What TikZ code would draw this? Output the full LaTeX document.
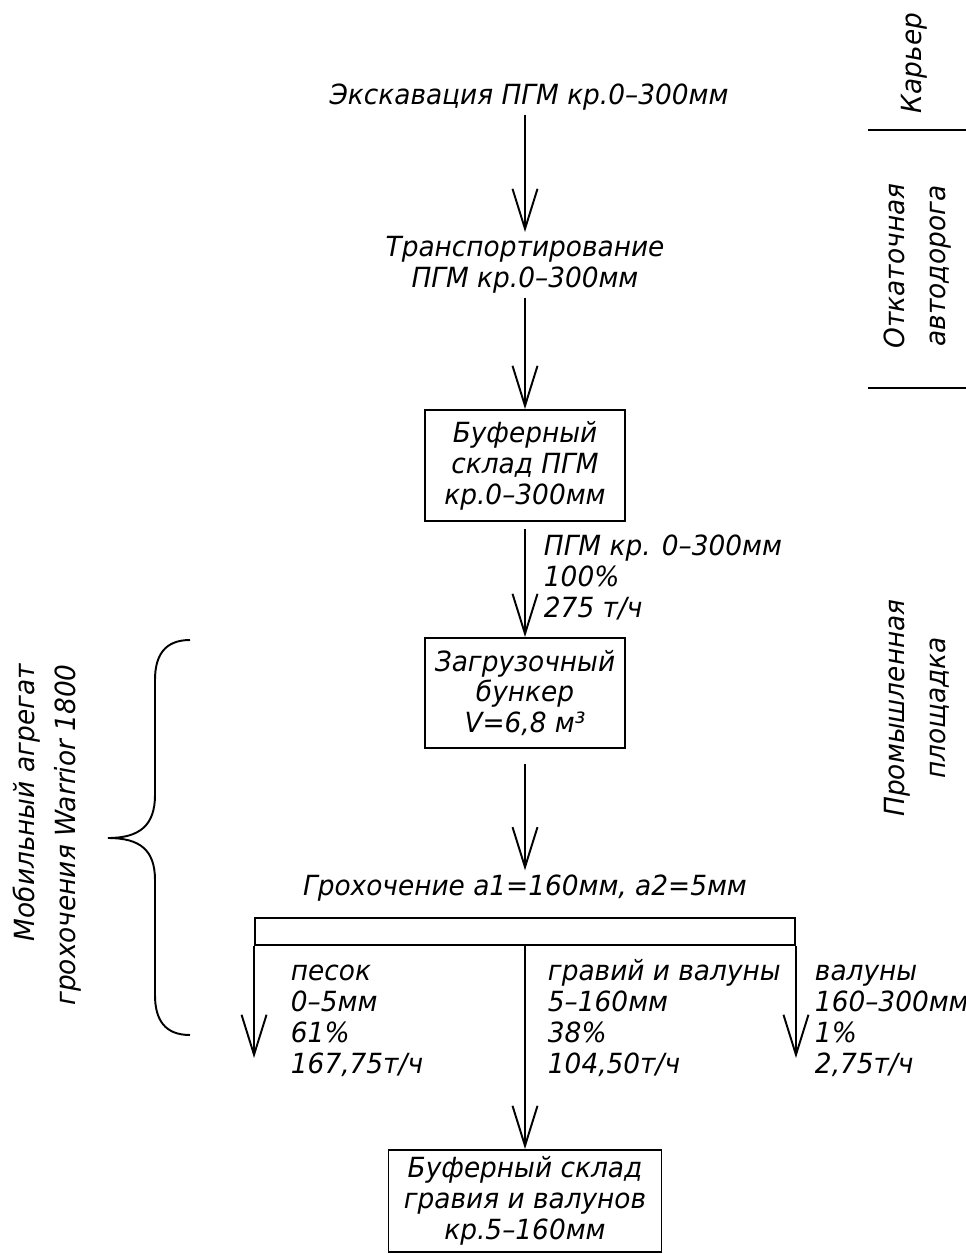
\documentclass[tikz,border=0pt]{standalone}
\usepackage{fontspec}
\setmainfont{DejaVu Sans}[FakeStretch=0.95]
\usetikzlibrary{arrows.meta}

\begin{document}
\begin{tikzpicture}[node distance=2cm, font=\itshape\fontsize{15.8}{17.6}\selectfont, line width=1.1pt]
		\tikzstyle{blok} = [rectangle, minimum width=4cm, minimum height=2.22cm, text centered, align=center, draw=black, inner sep=2pt]
		\tikzstyle{napis} = [align=center, inner sep=2pt]
		\tikzstyle{popis} = [align=left, anchor=base west, inner sep=0pt]
		\tikzstyle{zona} = [rotate=90, align=center, font=\itshape\fontsize{15.8}{23.3}\selectfont]
		\tikzstyle{arrow} = [-{Straight Barb[length=8mm, width=5mm, line width=1.1pt]}]
		
		\useasboundingbox (0,0) rectangle (19.32,-25.08);
		
		% hlavni tok
		\node (excav) [napis] at (10.58,-1.94) {Экскавация ПГМ кр.0–300мм};
		\node (transp) [napis, below of=excav, node distance=3.36cm, xshift=-0.08cm] {Транспортирование\\ПГМ кр.0–300мм};
		\node (buf1) [blok, below of=transp, node distance=4.01cm] {Буферный\\склад ПГМ\\кр.0–300мм};
		\node (hopper) [blok, below of=buf1, node distance=4.55cm, minimum height=2.2cm] {Загрузочный\\бункер\\ V=6,8 м³};
		\node (screening) [napis, below of=hopper, node distance=3.9cm] {Грохочение a1=160мм, a2=5мм};
		\node (sieve) [rectangle, draw=black, minimum width=10.8cm, minimum height=0.54cm, below of=screening, node distance=0.87cm] {};
		\node (buf2) [blok, below of=sieve, node distance=5.39cm, minimum width=5.46cm, minimum height=2.04cm] {Буферный склад\\гравия и валунов\\кр.5–160мм};
		
		\coordinate (sandend) at ([yshift=-2.24cm]sieve.south west);
		\coordinate (bouldend) at ([yshift=-2.24cm]sieve.south east);
		
		% popisy (base = posledni radek)
		\node (flow) [popis] at (10.86,-12.34) {ПГМ кр. 0–300мм\\100\%\\275 т/ч};
		\node (sand) [popis] at (5.8,-21.46) {песок\\0–5мм\\61\%\\167,75т/ч};
		\node (gravel) [popis] at (10.94,-21.46) {гравий и валуны\\5–160мм\\38\%\\104,50т/ч};
		\node (boulder) [popis] at (16.28,-21.46) {валуны\\160–300мм\\1\%\\2,75т/ч};
		
		\draw [arrow] (excav.south -| transp) -- (transp);
		\draw [arrow] (transp) -- (buf1);
		\draw [arrow, shorten <=0.14cm] (buf1) -- (hopper);
		\draw [arrow, shorten <=0.3cm] (hopper) -- (screening);
		\draw [arrow] (sieve.south west) -- (sandend);
		\draw [arrow] (sieve.south) -- (buf2);
		\draw [arrow] (sieve.south east) -- (bouldend);
		
		% zony
		\node (karier) [zona] at (18.28,-1.26) {Карьер};
		\node (otkat) [zona] at (18.35,-5.32) {Откаточная\\автодорога};
		\node (prom) [zona] at (18.34,-14.16) {Промышленная\\площадка};
		\coordinate (hr1a) at (17.36,-2.6);
		\coordinate (hr1b) at (19.32,-2.6);
		\coordinate (hr2a) at (17.36,-7.76);
		\coordinate (hr2b) at (19.32,-7.76);
		\draw (hr1a) -- (hr1b);
		\draw (hr2a) -- (hr2b);
		
		% zavorka
		\node (mobil) [zona, align=right] at (0.94,-16.7) {Мобильный агрегат\\грохочения Warrior 1800};
		\draw (3.8,-12.8) .. controls (3.3,-12.8) and (3.1,-13.1) .. (3.1,-13.6) -- (3.1,-15.9)
			.. controls (3.1,-16.5) and (2.8,-16.76) .. (2.16,-16.76)
			.. controls (2.8,-16.76) and (3.1,-17.0) .. (3.1,-17.6) -- (3.1,-19.9)
			.. controls (3.1,-20.4) and (3.3,-20.7) .. (3.8,-20.7);
	\end{tikzpicture}
\end{document}
